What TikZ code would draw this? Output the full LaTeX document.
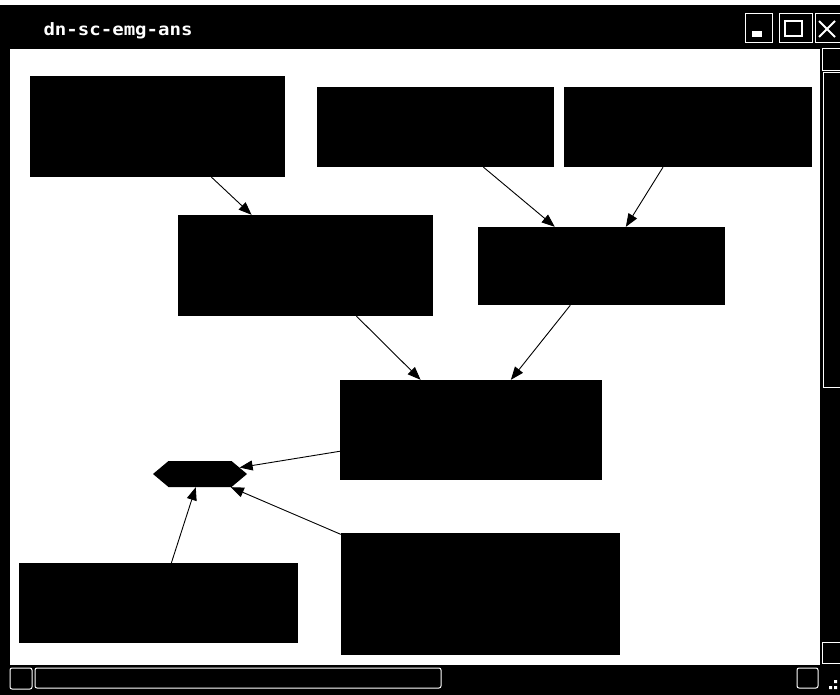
\documentclass[tikz,border=0pt]{standalone}
\usepackage{fontspec}
\newfontfamily\titlemono{DejaVu Sans Mono}
\usetikzlibrary{arrows.meta,shapes.symbols}

\begin{document}
\begin{tikzpicture}[x=1pt, y=-1pt,
  box/.style 2 args={fill=black, inner sep=0pt, minimum width=#1pt,
               minimum height=#2pt},
  hexa/.style={signal, signal to=east and west, signal from=nowhere,
               fill=black, inner sep=0pt, minimum width=94pt,
               minimum height=26pt, signal pointer angle=80},
  arr/.style={-{Triangle[length=13pt, width=10pt]}, line width=0.9pt},
  chrome/.style={draw=white, line width=1pt},
  titletext/.style={anchor=base west, text=white,
               font=\titlemono\bfseries\fontsize{17}{17}\selectfont}
]
\useasboundingbox (0,0) rectangle (840,695);
\fill[black] (0,5) rectangle (840,695);
\fill[white] (10,49) rectangle (820,665);
\node[titletext] (title) at (40,36) {\scalebox{1.12}[1]{dn-sc-emg-ans}};
\draw[chrome] (745,14) rectangle (772,43);
\fill[white] (752,31) rectangle (762,37);
\draw[chrome] (779,14) rectangle (812,43);
\draw[white, line width=1.5pt] (785,21) rectangle (802,36);
\draw[chrome] (815,14) rectangle (843,43);
\draw[white, line width=2pt] (819,21) -- (835,37) (819,37) -- (835,21);
\draw[chrome] (822,49) rectangle (843,71);
\draw[chrome] (823,73) rectangle (843,387);
\draw[chrome] (822,642) rectangle (843,663);
\draw[chrome, rounded corners=2pt] (10,668) rectangle (32,689);
\draw[chrome, rounded corners=2pt] (35,668) rectangle (441,688);
\draw[chrome, rounded corners=2pt] (797,668) rectangle (818,688);
\fill[white] (834,680) rectangle +(3,3) (829,686) rectangle +(3,3)
  (834,686) rectangle +(3,3);

\node[box={255}{101}] (top1) at (157.5,126.5) {};
\node[box={237}{80}] (top2) at (435.5,127) {};
\node[box={248}{80}] (top3) at (688,127) {};
\node[box={255}{101}] (mid1) at (305.5,265.5) {};
\node[box={247}{78}] (mid2) at (601.5,266) {};
\node[box={262}{100}] (join) at (471,430) {};
\node[hexa] (term) at (200,474) {};
\node[box={279}{80}] (low1) at (158.5,603) {};
\node[box={279}{122}] (low2) at (480.5,594) {};
\foreach \a/\b in {top1/mid1, top2/mid2, top3/mid2, mid1/join, mid2/join,
                   join/term, low2/term, low1/term}
  \draw[arr] (\a) -- (\b);
\end{tikzpicture}
\end{document}
